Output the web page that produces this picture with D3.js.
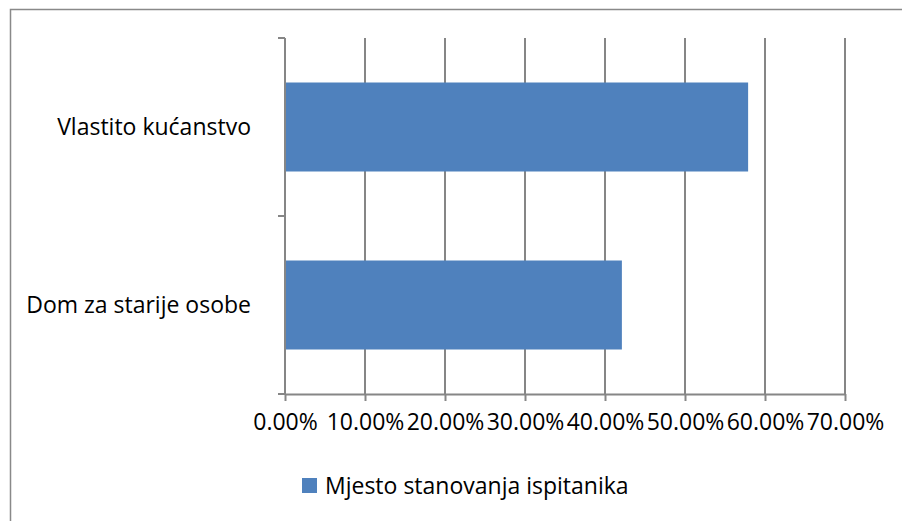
<!DOCTYPE html>
<html>
<head>
<meta charset="utf-8">
<script src="https://cdn.jsdelivr.net/npm/d3@7"></script>
<style>
  html, body { margin: 0; padding: 0; background: #fff; }
  svg { display: block; }
  text { font-family: "Open Sans", Lato, sans-serif; fill: #000; }
</style>
</head>
<body>
<svg id="chart" width="902" height="521"></svg>
<script>
const categories = ["Vlastito kućanstvo", "Dom za starije osobe"];
const values = [57.89, 42.11];
const seriesName = "Mjesto stanovanja ispitanika";
const xTicks = [0, 10, 20, 30, 40, 50, 60, 70];

const svg = d3.select("#chart");
const W = 902, H = 521;
const plot = { left: 285, right: 845, top: 38, bottom: 394 };
const gridColor = "#868686";
const barColor = "#4F81BD";
const fontFam = "'Open Sans', Lato, sans-serif";
const fontSize = "23px";

// outer border
svg.append("rect")
  .attr("x", 10.5).attr("y", 9.5)
  .attr("width", W).attr("height", H)
  .attr("fill", "none").attr("stroke", "#898989").attr("stroke-width", 1.5);

const x = d3.scaleLinear().domain([0, 70]).range([plot.left, plot.right]);
const y = d3.scaleBand().domain(categories).range([plot.top, plot.bottom])
  .paddingInner(0.5).paddingOuter(0.25);

// gridlines
svg.append("g").selectAll("line").data(xTicks.slice(1)).join("line")
  .attr("x1", d => x(d)).attr("x2", d => x(d))
  .attr("y1", plot.top).attr("y2", plot.bottom)
  .attr("stroke", gridColor).attr("stroke-width", 2);

// bars
svg.append("g").selectAll("rect").data(values).join("rect")
  .attr("x", x(0))
  .attr("y", (d, i) => y(categories[i]))
  .attr("width", d => x(d) - x(0))
  .attr("height", y.bandwidth())
  .attr("fill", barColor);

// x axis
const xAxis = d3.axisBottom(x).tickValues(xTicks)
  .tickFormat(d => d.toFixed(2) + "%")
  .tickSize(7).tickSizeOuter(0);
const gx = svg.append("g").attr("transform", `translate(0,${plot.bottom})`).call(xAxis);
gx.select(".domain").attr("stroke", gridColor).attr("stroke-width", 2);
gx.selectAll(".tick line").attr("stroke", gridColor).attr("stroke-width", 2);
gx.selectAll(".tick text")
  .attr("y", 29)
  .attr("dy", "0.32em")
  .style("font-family", fontFam)
  .style("font-size", fontSize)
  .attr("fill", "#000");

// y axis
const yEdges = d3.scaleLinear().domain([0, categories.length]).range([plot.top, plot.bottom]);
const gy = svg.append("g");
gy.append("line")
  .attr("x1", plot.left).attr("x2", plot.left)
  .attr("y1", plot.top).attr("y2", plot.bottom)
  .attr("stroke", gridColor).attr("stroke-width", 2);
gy.selectAll("line.tk").data(d3.range(categories.length + 1)).join("line")
  .attr("class", "tk")
  .attr("x1", plot.left - 7).attr("x2", plot.left)
  .attr("y1", d => yEdges(d)).attr("y2", d => yEdges(d))
  .attr("stroke", gridColor).attr("stroke-width", 2);
gy.selectAll("text").data(categories).join("text")
  .attr("x", 251)
  .attr("y", d => y(d) + y.bandwidth() / 2)
  .attr("dy", "0.35em")
  .attr("text-anchor", "end")
  .style("font-size", fontSize)
  .text(d => d);

// legend
const lg = svg.append("g");
lg.append("rect").attr("x", 302).attr("y", 478).attr("width", 15).attr("height", 15).attr("fill", barColor);
lg.append("text").attr("x", 325).attr("y", 486).attr("dy", "0.35em")
  .style("font-size", fontSize).text(seriesName);
</script>
</body>
</html>
